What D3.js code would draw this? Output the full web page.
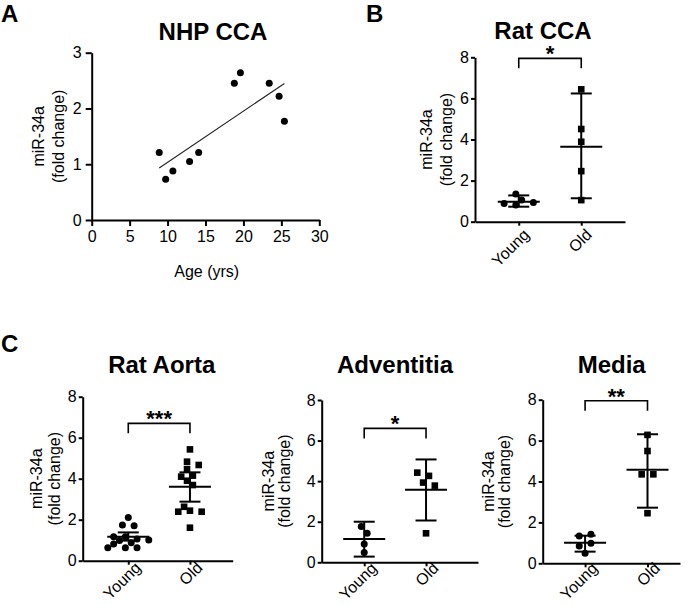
<!DOCTYPE html>
<html>
<head>
<meta charset="utf-8">
<script src="https://cdn.jsdelivr.net/npm/d3@7/dist/d3.min.js"></script>
<style>
  body { margin: 0; background: #fff; }
  svg { display: block; font-family: "Liberation Sans", Arial, sans-serif; }
  .axis path, .axis line { stroke: #000; stroke-width: 2; }
  .axis text { font-family: "Liberation Sans", Arial, sans-serif; font-size: 16px; fill: #000; }
  .lbl { font-size: 16px; fill: #000; }
  .title { font-size: 24px; font-weight: bold; fill: #000; }
  .letter { font-size: 24px; font-weight: bold; fill: #000; }
  .stars { font-size: 22px; font-weight: bold; fill: #000; }
</style>
</head>
<body>
<div id="container"></div>
<script>
// ---- data ----
const nhpAge = [8.9, 9.75, 10.7, 12.9, 14.1, 18.8, 19.6, 23.4, 24.7, 25.4];
const nhpMir = [1.21, 0.73, 0.88, 1.05, 1.21, 2.45, 2.64, 2.45, 2.22, 1.77];
const ageTicks = [0, 5, 10, 15, 20, 25, 30];
const nhpTicks = [0, 1, 2, 3];

const groups = ["Young", "Old"];
const foldTicks = [0, 2, 4, 6, 8];

const ratCcaYoung = [0.81, 1.35, 1.05, 0.89, 0.94];
const ratCcaOld = [6.44, 4.51, 3.89, 2.46, 1.05];
const ratCcaMean = [0.97, 3.65];
const ratCcaLow = [0.73, 1.14];
const ratCcaHigh = [1.28, 6.24];

const aortaYoung = [2.11, 1.74, 1.71, 1.17, 1.06, 1.17, 1.01, 0.98, 0.88, 0.81, 0.63, 0.63, 0.63];
const aortaOld = [5.43, 4.83, 4.67, 4.47, 4.15, 4.10, 3.90, 3.69, 2.63, 2.44, 2.39, 2.39, 1.61];
const aortaMean = [1.17, 3.61];
const aortaLow = [0.98, 2.88];
const aortaHigh = [1.38, 4.31];

const adventYoung = [1.76, 1.43, 0.90, 0.48];
const adventOld = [3.93, 4.26, 4.42, 3.78, 1.43];
const adventMean = [1.15, 3.57];
const adventLow = [0.28, 2.06];
const adventHigh = [2.00, 5.07];

const mediaYoung = [0.85, 1.34, 1.42, 0.98, 0.49];
const mediaOld = [6.28, 5.49, 4.35, 4.35, 2.45];
const mediaMean = [1.01, 4.57];
const mediaLow = [0.57, 2.72];
const mediaHigh = [1.35, 6.31];

const panels = [
  { name: "Rat CCA", young: ratCcaYoung, old: ratCcaOld, mean: ratCcaMean, low: ratCcaLow, high: ratCcaHigh, stars: "*", bracket: 7.95,
    box: { left: 475, right: 625, top: 57.3, bottom: 221.7, titleX: 543, titleY: 38.5, pad: 0.7, align: 0.5, lab1: -43, lab2: -23, tick: [11, 14] } },
  { name: "Rat Aorta", young: aortaYoung, old: aortaOld, mean: aortaMean, low: aortaLow, high: aortaHigh, stars: "***", bracket: 6.7,
    box: { left: 82.7, right: 232.7, top: 396.7, bottom: 560.7, titleX: 161.7, titleY: 373, pad: 0.716, align: 0.516, lab1: -41, lab2: -23, tick: [13, 8] } },
  { name: "Adventitia", young: adventYoung, old: adventOld, mean: adventMean, low: adventLow, high: adventHigh, stars: "*", bracket: 6.6,
    box: { left: 321.7, right: 478, top: 400, bottom: 562.3, titleX: 395, titleY: 373, pad: 0.764, align: 0.45, lab1: -48, lab2: -32, tick: [13, 7] } },
  { name: "Media", young: mediaYoung, old: mediaOld, mean: mediaMean, low: mediaLow, high: mediaHigh, stars: "**", bracket: 7.95,
    box: { left: 542.7, right: 680, top: 399.7, bottom: 563.3, titleX: 611.7, titleY: 373, pad: 0.6, align: 0.566, lab1: -49, lab2: -33, tick: [13, 6] } }
];

const W = 697, H = 605;
const svg = d3.select("#container").append("svg")
  .attr("width", W).attr("height", H).attr("viewBox", [0, 0, W, H]);

function styleAxis(g) {
  g.attr("font-family", null).attr("font-size", null);
}

function yLabel(x1, x2, cy) {
  svg.append("text").attr("class", "lbl").attr("text-anchor", "middle")
    .attr("transform", `translate(${x1},${cy}) rotate(-90)`).text("miR-34a");
  svg.append("text").attr("class", "lbl").attr("text-anchor", "middle")
    .attr("transform", `translate(${x2},${cy}) rotate(-90)`).text("(fold change)");
}

// ---- panel letters ----
svg.append("text").attr("class", "letter").attr("x", 1).attr("y", 21.5).text("A");
svg.append("text").attr("class", "letter").attr("x", 366).attr("y", 21.5).text("B");
svg.append("text").attr("class", "letter").attr("x", 1).attr("y", 352).text("C");

// ---- Panel A: NHP CCA scatter + regression ----
const ax = d3.scaleLinear().domain([0, 30]).range([91.7, 319.3]);
const ay = d3.scaleLinear().domain([0, 3]).range([220, 52.7]);

svg.append("g").attr("class", "axis")
  .attr("transform", `translate(0,${ay(0)})`)
  .call(d3.axisBottom(ax).tickValues(ageTicks).tickFormat(d3.format("d")).tickSize(6).tickSizeOuter(0).tickPadding(5))
  .call(styleAxis);
svg.append("g").attr("class", "axis")
  .attr("transform", `translate(${ax(0)},0)`)
  .call(d3.axisLeft(ay).tickValues(nhpTicks).tickFormat(d3.format("d")).tickSize(6).tickSizeOuter(0).tickPadding(4))
  .call(styleAxis);

// least squares fit
const mx = d3.mean(nhpAge), my = d3.mean(nhpMir);
const slope = d3.sum(nhpAge, (a, i) => (a - mx) * (nhpMir[i] - my)) / d3.sum(nhpAge, a => (a - mx) ** 2);
const icpt = my - slope * mx;
const [xmin, xmax] = d3.extent(nhpAge);
svg.append("line")
  .attr("x1", ax(xmin)).attr("y1", ay(icpt + slope * xmin))
  .attr("x2", ax(xmax)).attr("y2", ay(icpt + slope * xmax))
  .attr("stroke", "#222").attr("stroke-width", 1.1);

svg.append("g").selectAll("circle")
  .data(nhpAge.map((a, i) => [a, nhpMir[i]]))
  .join("circle")
  .attr("cx", d => ax(d[0])).attr("cy", d => ay(d[1])).attr("r", 3.5).attr("fill", "#000");

svg.append("text").attr("class", "title").attr("text-anchor", "middle")
  .attr("x", 213).attr("y", 39.5).text("NHP CCA");
svg.append("text").attr("class", "lbl").attr("text-anchor", "middle")
  .attr("x", 206.7).attr("y", 276.5).text("Age (yrs)");
yLabel(ax(0) - 48, ax(0) - 28, (ay(0) + ay(3)) / 2);

// ---- beeswarm: greedy placement on a grid, each touching cluster re-centred ----
function swarm(values, y, h, dist) {
  const order = d3.range(0, 14).flatMap(k => k === 0 ? [0] : [k, -k]);
  const hits = (p, py, dx) => Math.hypot(p.dx - dx, p.py - py) < dist;
  const placed = [];
  values.forEach(v => {
    const py = y(v);
    const k = order.find(k => placed.every(p => !hits(p, py, k * h)));
    placed.push({ v, py, dx: k * h });
  });
  const sorted = placed.slice().sort((a, b) => a.py - b.py);
  let cluster = [];
  const flush = () => {
    if (!cluster.length) return;
    const [lo, hi] = d3.extent(cluster, p => p.dx);
    cluster.forEach(p => p.dx -= (lo + hi) / 2);
    cluster = [];
  };
  sorted.forEach((p, i) => {
    if (i > 0 && p.py - sorted[i - 1].py >= dist) flush();
    cluster.push(p);
  });
  flush();
  return placed;
}

// ---- Panels B and C: Young vs Old dot plots ----
panels.forEach(p => {
  const b = p.box;
  const x = d3.scalePoint().domain(groups).range([b.left, b.right]).padding(b.pad).align(b.align);
  const y = d3.scaleLinear().domain([0, 8]).range([b.bottom, b.top]);

  svg.append("g").attr("class", "axis")
    .attr("transform", `translate(${b.left},0)`)
    .call(d3.axisLeft(y).tickValues(foldTicks).tickSize(4).tickSizeOuter(0).tickPadding(2))
    .call(styleAxis);
  const xa = svg.append("g").attr("class", "axis")
    .attr("transform", `translate(0,${b.bottom})`)
    .call(d3.axisBottom(x).tickSize(4).tickSizeOuter(0))
    .call(styleAxis);
  xa.selectAll(".tick text")
    .attr("text-anchor", "end").attr("dy", null).attr("y", null)
    .attr("transform", `translate(${b.tick[0]},${b.tick[1]}) rotate(-45)`);

  svg.append("text").attr("class", "title").attr("text-anchor", "middle")
    .attr("x", b.titleX).attr("y", b.titleY).text(p.name);
  yLabel(b.left + b.lab1, b.left + b.lab2, (b.top + b.bottom) / 2);

  const h = 5.85, dist = 6.8;
  const g = svg.append("g");
  g.selectAll("circle")
    .data(swarm(p.young, y, h, dist))
    .join("circle")
    .attr("cx", d => x("Young") + d.dx).attr("cy", d => d.py).attr("r", 3.5).attr("fill", "#000");
  const s = 6.6;
  g.selectAll("rect")
    .data(swarm(p.old, y, h, dist))
    .join("rect")
    .attr("x", d => x("Old") + d.dx - s / 2).attr("y", d => d.py - s / 2)
    .attr("width", s).attr("height", s).attr("fill", "#000");

  // mean and error bars
  groups.forEach((gname, i) => {
    const cx = x(gname);
    const eb = svg.append("g").attr("stroke", "#000").attr("stroke-width", 2);
    eb.append("line").attr("x1", cx).attr("x2", cx).attr("y1", y(p.low[i])).attr("y2", y(p.high[i]));
    eb.append("line").attr("x1", cx - 21).attr("x2", cx + 21).attr("y1", y(p.mean[i])).attr("y2", y(p.mean[i]));
    [p.low[i], p.high[i]].forEach(v => {
      eb.append("line").attr("x1", cx - 10.5).attr("x2", cx + 10.5).attr("y1", y(v)).attr("y2", y(v));
    });
  });

  // significance bracket
  const by = y(p.bracket);
  svg.append("path")
    .attr("d", `M${x("Young")},${by + 10}V${by}H${x("Old")}V${by + 10}`)
    .attr("fill", "none").attr("stroke", "#000").attr("stroke-width", 1.6);
  svg.append("text").attr("class", "stars").attr("text-anchor", "middle")
    .attr("x", (x("Young") + x("Old")) / 2).attr("y", by + 3).text(p.stars);
});
</script>
</body>
</html>
